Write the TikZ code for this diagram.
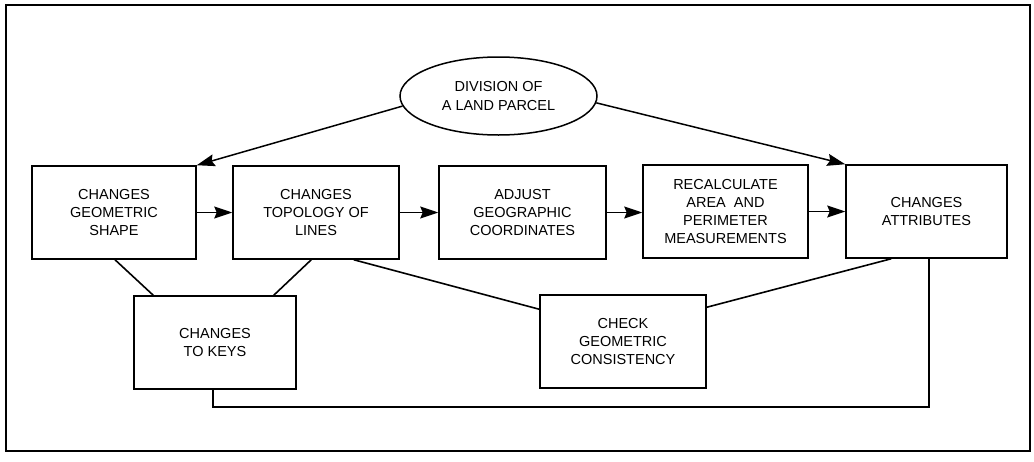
\documentclass[tikz,border=0pt]{standalone}
\usepackage{fontspec}
\setmainfont{Liberation Sans}
\usetikzlibrary{arrows.meta,shapes.geometric,calc}

\begin{document}
\begin{tikzpicture}[x=1pt,y=-1pt,
  every node/.style={font=\fontsize{14.5}{18.3}\selectfont, align=center},
  box/.style={draw, line width=1.5pt, rectangle, inner sep=0pt, minimum height=93pt},
  oval/.style={draw, line width=1.5pt, ellipse, inner sep=0pt, minimum width=197pt, minimum height=78pt},
  link/.style={line width=1.6pt},
  arr/.style={line width=1.5pt, -{Stealth[length=18pt,width=12pt,inset=2.5pt]}}]

\useasboundingbox (0,0) rectangle (1034,461);
% outer frame
\draw[line width=1.5pt] (6,5) rectangle (1030,451);

% start event
\node[oval] (ell) at (498.5,96) {DIVISION OF\\A LAND PARCEL};

% main chain of processing steps
\node[box, minimum width=164pt] (b1) at (114,212.5) {CHANGES\\GEOMETRIC\\SHAPE};
\node[box, minimum width=166pt] (b2) at (316,212.5) {CHANGES\\TOPOLOGY OF\\LINES};
\node[box, minimum width=167pt] (b3) at (522.5,212.5) {ADJUST\\GEOGRAPHIC\\COORDINATES};
\node[box, minimum width=165pt] (b4) at (725.5,211.5) {RECALCULATE\\AREA\ \ AND\\PERIMETER\\MEASUREMENTS};
\node[box, minimum width=161pt] (b5) at (926.5,211.5) {CHANGES\\ATTRIBUTES};

% lower row
\node[box, minimum width=162pt] (keys) at (215,342.5) {CHANGES\\TO KEYS};
\node[box, minimum width=166pt] (chk) at (623,341.5) {CHECK\\GEOMETRIC\\CONSISTENCY};

% arrows from the start event
\draw[arr] (ell.186) -- (b1.north east);
\draw[arr] (ell.356) -- (b5.north west);

% arrows along the chain
\draw[arr] (b1.east) -- (b1.east -| b2.west);
\draw[arr] (b2.east) -- (b2.east -| b3.west);
\draw[arr] (b3.east) -- (b3.east -| b4.west);
\draw[arr] (b4.east) -- (b4.east -| b5.west);

% plain links to the lower row
\draw[link] ($(b1.south)+(1,0)$) -- ($(keys.north west)+(20,0)$);
\draw[link] ($(b2.south west)+(79,0)$) -- ($(keys.north east)+(-23,0)$);
\draw[link] ($(b2.south east)+(-46,0)$) -- ($(chk.north west)+(0,15)$);
\draw[link] ($(chk.north east)+(0,13)$) -- ($(b5.south west)+(46,0)$);

% feedback line from the keys back to the attributes
\coordinate (fb) at (929,407);
\draw[line width=1.2pt] ($(keys.south)+(-2,0)$) |- (fb) -- (fb |- b5.south);
\end{tikzpicture}
\end{document}
